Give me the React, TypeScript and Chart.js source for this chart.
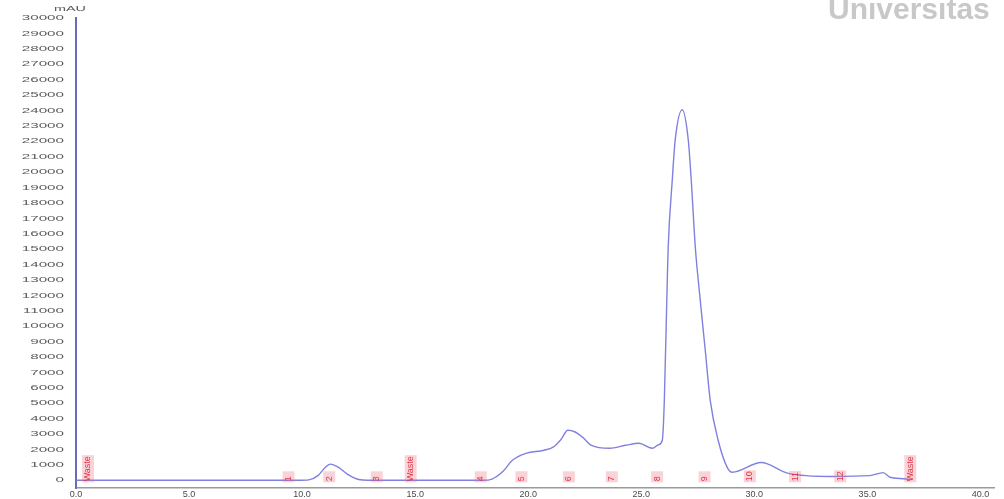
import React, { useEffect, useRef } from "react";
import { Chart, registerables } from "chart.js";

Chart.register(...registerables);

const retentionTimes: number[] = [
  0.0, 9.8, 10.3, 10.7, 11.0, 11.25, 11.6, 12.0, 12.5, 12.9, 18.0, 18.4, 18.9, 19.3, 19.9,
  20.7, 21.1, 21.45, 21.75, 22.05, 22.4, 22.8, 23.6, 24.3, 24.9, 25.5, 25.75, 25.93, 26.02, 26.15,
  26.19, 26.37, 26.5, 26.81, 27.08, 27.21, 27.39, 27.52, 27.83, 28.05, 28.4, 28.8, 29.03, 30.3,
  31.5, 33.4, 35.1, 35.7, 36.0, 36.6, 36.9,
];
const absorbance: number[] = [
  0, 0, 30, 300, 800, 1050, 850, 400, 50, 0, 0, 80, 600, 1300, 1750,
  1950, 2150, 2650, 3250, 3150, 2800, 2270, 2080, 2270, 2400, 2080, 2300, 2600, 5190, 12980,
  15120, 19470, 22070, 24050, 22070, 19470, 15120, 12980, 8440, 5190, 2600, 840, 520, 1150,
  450, 250, 300, 500, 200, 100, 50,
];

const markerTimes: number[] = [0.53, 9.4, 11.2, 13.3, 14.8, 17.9, 19.7, 21.8, 23.7, 25.7, 27.8, 29.8, 31.8, 33.8, 36.9];
const markerLabels: string[] = ["Waste", "1", "2", "3", "Waste", "4", "5", "6", "7", "8", "9", "10", "11", "12", "Waste"];

const xTickValues: number[] = [0, 5, 10, 15, 20, 25, 30, 35, 40];
const xTickLabels: string[] = ["0.0", "5.0", "10.0", "15.0", "20.0", "25.0", "30.0", "35.0", "40.0"];
const yTickValues: number[] = [
  0, 1000, 2000, 3000, 4000, 5000, 6000, 7000, 8000, 9000, 10000, 11000, 12000, 13000, 14000, 15000,
  16000, 17000, 18000, 19000, 20000, 21000, 22000, 23000, 24000, 25000, 26000, 27000, 28000, 29000, 30000,
];

const FONT = "'Liberation Sans', Arial, sans-serif";

const overlayPlugin = {
  id: "overlay",
  afterDatasetsDraw(chart: any) {
    const { ctx, scales } = chart;
    const xs = scales.x;
    const ys = scales.y;
    ctx.save();
    const base = ys.getPixelForValue(0) + 1;
    ctx.font = "9px " + FONT;
    ctx.textBaseline = "middle";
    ctx.textAlign = "left";
    markerTimes.forEach((t, i) => {
      const px = xs.getPixelForValue(t);
      const label = markerLabels[i];
      const w = ctx.measureText(label).width;
      ctx.save();
      ctx.translate(px, base);
      ctx.rotate(-Math.PI / 2);
      ctx.fillStyle = "rgba(240,110,125,0.3)";
      ctx.fillRect(-1, -6, Math.max(w + 2, 11), 12);
      ctx.fillStyle = "rgba(225,45,65,0.95)";
      ctx.fillText(label, 0, 0);
      ctx.restore();
    });
    ctx.restore();
  },
  afterDraw(chart: any) {
    const { ctx, scales } = chart;
    const ys = scales.y;
    ctx.save();
    ctx.fillStyle = "#5a5a5a";
    ctx.font = "8px " + FONT;
    ctx.textAlign = "right";
    ctx.textBaseline = "middle";
    yTickValues.forEach((v) => {
      const py = ys.getPixelForValue(v);
      ctx.save();
      ctx.translate(64, py);
      ctx.scale(1.9, 1);
      ctx.fillText(String(v), 0, 0);
      ctx.restore();
    });
    ctx.save();
    ctx.translate(70, 9);
    ctx.scale(1.8, 1);
    ctx.textAlign = "center";
    ctx.fillText("mAU", 0, 0);
    ctx.restore();
    ctx.fillStyle = "#c8c8c8";
    ctx.font = "bold 30px " + FONT;
    ctx.textAlign = "left";
    ctx.textBaseline = "alphabetic";
    ctx.fillText("Universitas", 828, 19);
    ctx.restore();
  },
};

export default function App() {
  const ref = useRef<HTMLCanvasElement | null>(null);
  useEffect(() => {
    if (!ref.current) return;
    const data = retentionTimes.map((t, i) => ({ x: t, y: absorbance[i] }));
    const chart = new Chart(ref.current, {
      type: "line",
      data: {
        datasets: [
          {
            data,
            borderColor: "#8080e0",
            borderWidth: 1.4,
            pointRadius: 0,
            fill: false,
            cubicInterpolationMode: "monotone",
          },
        ],
      },
      options: {
        animation: false,
        responsive: true,
        maintainAspectRatio: false,
        layout: { padding: { top: 18, right: 10, bottom: 0, left: 0 } },
        plugins: { legend: { display: false }, tooltip: { enabled: false } },
        scales: {
          x: {
            type: "linear",
            min: 0,
            max: 40.6,
            grid: { display: false, drawTicks: false },
            border: { display: true, color: "#9a9a9a", width: 1.5 },
            afterBuildTicks: (s: any) => {
              s.ticks = xTickValues.map((v) => ({ value: v }));
            },
            afterFit: (s: any) => {
              s.height = 11;
              s.paddingLeft = 0;
              s.paddingRight = 0;
            },
            ticks: {
              padding: 1,
              maxRotation: 0,
              autoSkip: false,
              color: "#4a4a4a",
              font: { size: 9, family: FONT },
              callback: (v: any) => {
                const i = xTickValues.indexOf(Number(v));
                return i >= 0 ? xTickLabels[i] : "";
              },
            },
          },
          y: {
            type: "linear",
            min: -500,
            max: 30000,
            grid: { display: false, drawTicks: false },
            border: { display: true, color: "#6a6ab8", width: 2 },
            afterBuildTicks: (s: any) => {
              s.ticks = yTickValues.map((v) => ({ value: v }));
            },
            afterFit: (s: any) => {
              s.width = 76;
              s.paddingTop = 0;
              s.paddingBottom = 0;
            },
            ticks: {
              padding: 12,
              autoSkip: false,
              color: "rgba(0,0,0,0)",
              font: { size: 8, family: FONT },
              callback: (v: any) => String(v),
            },
          },
        },
      },
      plugins: [overlayPlugin],
    });
    return () => chart.destroy();
  }, []);
  return (
    <div style={{ position: "absolute", left: 0, top: 0, width: 1004, height: 499, background: "#fff" }}>
      <canvas ref={ref} />
    </div>
  );
}
